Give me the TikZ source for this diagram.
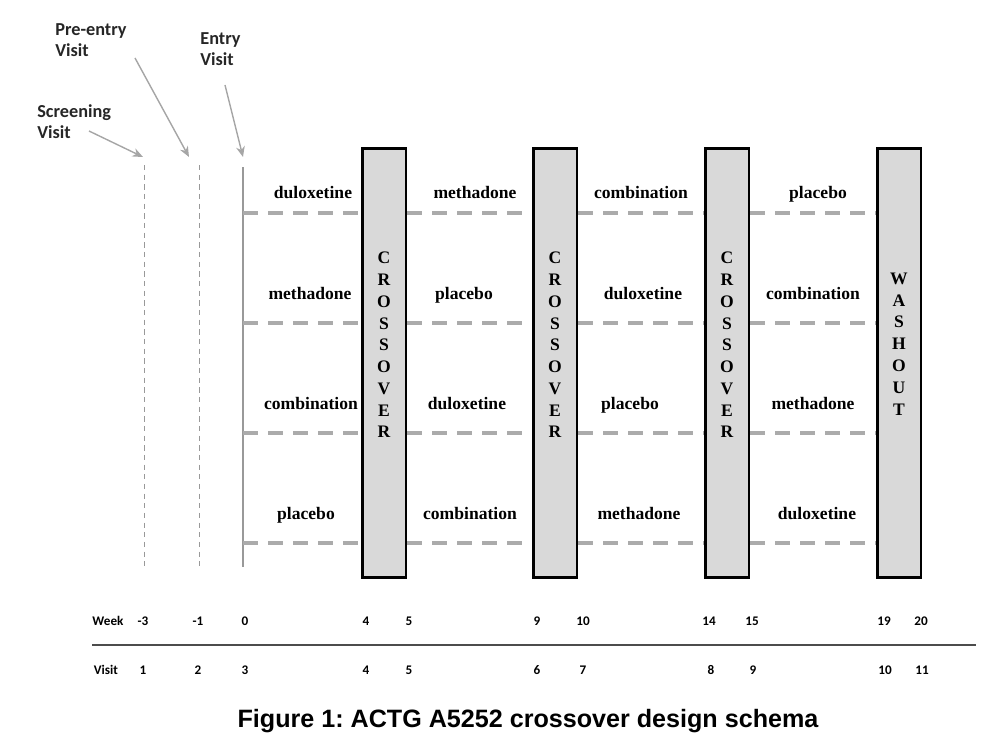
\documentclass[tikz,border=0pt]{standalone}
\usepackage{fontspec}
\setmainfont{Liberation Serif}
\newfontfamily\visitfont{Carlito}
\newfontfamily\capfont{Liberation Sans}
\usetikzlibrary{arrows.meta}
\frenchspacing

\tikzset{
  period/.style={draw=black, line width=1.7pt, fill=black!15, minimum width=0.88cm,
    minimum height=8.6cm, inner sep=0pt},
  letters/.style={align=center, inner sep=0pt, font=\bfseries\fontsize{10}{12.4}\selectfont},
  drug/.style={font=\bfseries\fontsize{10}{12}\selectfont, text height=1.6ex, text depth=0.3ex},
  rowline/.style={draw=black!33, line width=2pt, dash pattern=on 8.5pt off 5.7pt},
  visitlab/.style={align=left, inner sep=0pt, font=\visitfont\bfseries\fontsize{10.4}{12}\selectfont, text=black!85},
  pointer/.style={draw=black!35, line width=0.8pt, -{Stealth[length=6pt,width=5pt]}},
  tick/.style={font=\visitfont\bfseries\fontsize{7.5}{9}\selectfont, text height=1.5ex, text depth=0.3ex}
}

\begin{document}
\begin{tikzpicture}[x=0.02cm, y=-0.02cm]
\useasboundingbox (0,0) rectangle (984,740);

% visit lines
\coordinate (s0) at (144,165);
\coordinate (s1) at (144,570);
\coordinate (p0) at (199,165);
\coordinate (p1) at (199,570);
\coordinate (e0) at (243,167);
\coordinate (e1) at (243,567);
\draw[black!40, line width=0.5pt, dash pattern=on 3pt off 2.5pt] (s0) -- (s1);
\draw[black!40, line width=0.5pt, dash pattern=on 3pt off 2.5pt] (p0) -- (p1);
\draw[black!40, line width=1.4pt] (e0) -- (e1);

% visit labels
\node[visitlab, anchor=west] (scr) at (37,122) {Screening\\Visit};
\node[visitlab, anchor=west] (pre) at (55,40) {Pre-entry\\Visit};
\node[visitlab, anchor=west] (ent) at (200,49) {Entry\\Visit};
\draw[pointer] (89,131) -- (143,157);
\draw[pointer] (135,58) -- (189,157);
\draw[pointer] (225,85) -- (243,157);

% periods
\node[period] (c1) at (384,363) {};
\node[period] (c2) at (555,363) {};
\node[period] (c3) at (727,363) {};
\node[period] (w1) at (899,363) {};
\node[letters] (c1t) at (384,345) {C\\R\\O\\S\\S\\O\\V\\E\\R};
\node[letters] (c2t) at (555,345) {C\\R\\O\\S\\S\\O\\V\\E\\R};
\node[letters] (c3t) at (727,345) {C\\R\\O\\S\\S\\O\\V\\E\\R};
\node[letters] (w1t) at (899,344) {W\\A\\S\\H\\O\\U\\T};

% sequence rows
\draw[rowline] (e0 |- 0,213) -- (c1.west |- 0,213);
\draw[rowline] (c1.east |- 0,213) -- (c2.west |- 0,213);
\draw[rowline] (c2.east |- 0,213) -- (c3.west |- 0,213);
\draw[rowline] (c3.east |- 0,213) -- (w1.west |- 0,213);
\draw[rowline] (e0 |- 0,323) -- (c1.west |- 0,323);
\draw[rowline] (c1.east |- 0,323) -- (c2.west |- 0,323);
\draw[rowline] (c2.east |- 0,323) -- (c3.west |- 0,323);
\draw[rowline] (c3.east |- 0,323) -- (w1.west |- 0,323);
\draw[rowline] (e0 |- 0,433) -- (c1.west |- 0,433);
\draw[rowline] (c1.east |- 0,433) -- (c2.west |- 0,433);
\draw[rowline] (c2.east |- 0,433) -- (c3.west |- 0,433);
\draw[rowline] (c3.east |- 0,433) -- (w1.west |- 0,433);
\draw[rowline] (e0 |- 0,543) -- (c1.west |- 0,543);
\draw[rowline] (c1.east |- 0,543) -- (c2.west |- 0,543);
\draw[rowline] (c2.east |- 0,543) -- (c3.west |- 0,543);
\draw[rowline] (c3.east |- 0,543) -- (w1.west |- 0,543);

% treatments
\node[drug] (a1) at (313,193) {duloxetine};
\node[drug] (a2) at (475,193) {methadone};
\node[drug] (a3) at (641,193) {combination};
\node[drug] (a4) at (818,193) {placebo};
\node[drug] (b1) at (310,294) {methadone};
\node[drug] (b2) at (464,294) {placebo};
\node[drug] (b3) at (643,294) {duloxetine};
\node[drug] (b4) at (813,294) {combination};
\node[drug] (d1) at (311,404) {combination};
\node[drug] (d2) at (467,404) {duloxetine};
\node[drug] (d3) at (630,404) {placebo};
\node[drug] (d4) at (813,404) {methadone};
\node[drug] (f1) at (306,514) {placebo};
\node[drug] (f2) at (470,514) {combination};
\node[drug] (f3) at (639,514) {methadone};
\node[drug] (f4) at (817,514) {duloxetine};

% weeks and visits
\node[tick] (wk) at (108,621) {Week};
\node[tick] at (143,621) {-3};
\node[tick] at (198,621) {-1};
\node[tick] at (245,621) {0};
\node[tick] at (366,621) {4};
\node[tick] at (409,621) {5};
\node[tick] at (537,621) {9};
\node[tick] at (583,621) {10};
\node[tick] at (709,621) {14};
\node[tick] at (752,621) {15};
\node[tick] at (884,621) {19};
\node[tick] at (921,621) {20};
\draw[black!70, line width=1.1pt] (92,645) -- (976,645);
\node[tick] (vs) at (106,670) {Visit};
\node[tick] at (143,670) {1};
\node[tick] at (198,670) {2};
\node[tick] at (245,670) {3};
\node[tick] at (366,670) {4};
\node[tick] at (409,670) {5};
\node[tick] at (537,670) {6};
\node[tick] at (583,670) {7};
\node[tick] at (711,670) {8};
\node[tick] at (753,670) {9};
\node[tick] at (885,670) {10};
\node[tick] at (922,670) {11};

\node[font=\capfont\bfseries\fontsize{14.3}{16}\selectfont] (cap) at (528,721) {Figure 1: ACTG A5252 crossover design schema};

\end{tikzpicture}
\end{document}
